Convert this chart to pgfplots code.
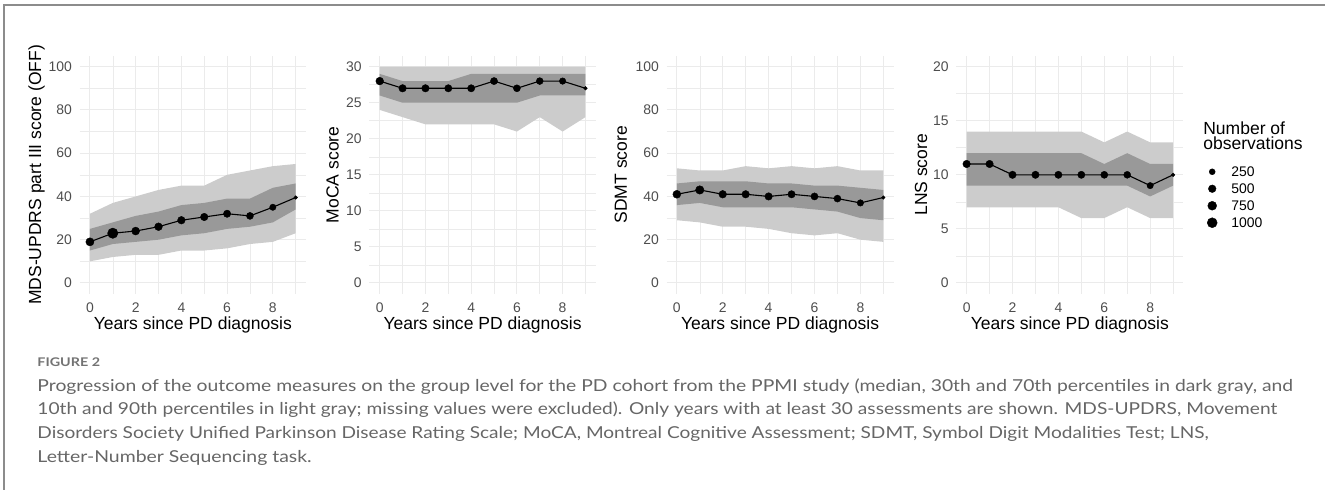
\documentclass[border=0pt]{standalone}
\usepackage{fontspec}
\setmainfont{Liberation Sans}
\newfontfamily\capfont{Lato}
\usepackage{graphicx}
\usepackage{pgfplots}
\pgfplotsset{compat=1.18}
\usepackage{pgfplotstable}
\usepgfplotslibrary{fillbetween}
\definecolor{gridc}{HTML}{EBEBEB}
\definecolor{lightband}{HTML}{CCCCCC}
\definecolor{darkband}{HTML}{999999}
\definecolor{tickc}{HTML}{4D4D4D}
\definecolor{capc}{HTML}{666666}
\definecolor{figc}{HTML}{737373}
\definecolor{framec}{HTML}{8C8C8C}

% x = years since diagnosis, med = median, q30/q70, q10/q90 percentiles, n = number of observations
\pgfplotstableread{
x med q30 q70 q10 q90 n
0 19 15 25 10 32 600
1 23 18 28 12 37 1100
2 24 19 31 13 40 560
3 26 20 33 13 43 520
4 29 22 36 15 45 500
5 30.5 23 37 15 45 480
6 32 25 39 16 50 450
7 31 26 39 18 52 400
8 35 28 44 19 54 300
9 39.5 34 46 23 55 40
}\updrs
\pgfplotstableread{
x med q30 q70 q10 q90 n
0 28 26 29 24 30 520
1 27 25 28 23 30 480
2 27 25 28 22 30 470
3 27 25 28 22 30 450
4 27 25 29 22 30 440
5 28 25 29 22 30 420
6 27 25 29 21 30 400
7 28 26 29 23 30 380
8 28 26 29 21 30 320
9 27 26 29 23 30 40
}\moca
\pgfplotstableread{
x med q30 q70 q10 q90 n
0 41 36 46 29 53 560
1 43 37 47 28 52 650
2 41 35 47 26 52 500
3 41 35 47 26 54 480
4 40 35 46 25 53 470
5 41 35 46 23 54 450
6 40 34 45 22 53 420
7 39 33 45 23 54 400
8 37 30 44 20 52 320
9 39.5 29 43 19 52 40
}\sdmt
\pgfplotstableread{
x med q30 q70 q10 q90 n
0 11 9 12 7 14 480
1 11 9 12 7 14 470
2 10 9 12 7 14 460
3 10 9 12 7 14 450
4 10 9 12 7 14 440
5 10 9 12 6 14 430
6 10 9 11 6 13 410
7 10 9 12 7 14 390
8 9 8 11 6 13 300
9 10 9 11 6 13 40
}\lns

\pgfplotsset{
  panel/.style={
    scale only axis, height=238.1bp, anchor=south west,
    xmin=-0.45, xmax=9.45,
    xtick={0,2,4,6,8}, minor xtick={1,3,5,7,9},
    grid=both,
    major grid style={gridc, line width=1.07bp},
    minor grid style={gridc, line width=0.55bp},
    axis line style={draw=none},
    tick style={draw=none},
    major tick length=0pt, minor tick length=0pt,
    ticklabel style={font=\fontsize{14}{14}\selectfont, text=tickc},
    /pgf/number format/assume math mode=true,
    xticklabel style={anchor=north, inner sep=0pt, yshift=-8.7bp},
    yticklabel style={anchor=east, inner sep=0pt, xshift=-7.5bp},
    label style={font=\fontsize{17.6}{17.6}\selectfont},
    xlabel={Years since PD diagnosis},
    xlabel style={at={(axis description cs:0.5,0)}, anchor=center, yshift=-31.7bp},
  },
  medline/.style={black, line width=1.1bp, no markers},
  obs/.style={scatter, only marks, mark=*,
    scatter/use mapped color={draw=black, fill=black},
    visualization depends on={1+0.1265*sqrt(\thisrow{n})\as\msize},
    scatter/@pre marker code/.append style={/tikz/mark size=\msize bp}},
}

\newcommand{\bands}[2]{%
  \addplot[name path=#2hi, draw=none, forget plot] table[x=x,y=q90]{#1};
  \addplot[name path=#2lo, draw=none, forget plot] table[x=x,y=q10]{#1};
  \addplot[lightband, draw=none, forget plot] fill between[of=#2hi and #2lo];
  \addplot[name path=#2dhi, draw=none, forget plot] table[x=x,y=q70]{#1};
  \addplot[name path=#2dlo, draw=none, forget plot] table[x=x,y=q30]{#1};
  \addplot[darkband, draw=none, forget plot] fill between[of=#2dhi and #2dlo];
  \addplot[medline, forget plot] table[x=x,y=med]{#1};
  \addplot[obs, forget plot] table[x=x,y=med]{#1};
}

\newcommand{\capline}[2]{\resizebox{#1}{\height}{\capfont\fontsize{16.5}{16.5}\selectfont #2}}

\begin{document}
\begin{tikzpicture}[x=1bp,y=1bp]
\path (0,0) rectangle (1326,490);
\draw[framec, line width=2bp] (4,0) -- (4,484.5) -- (1326,484.5);

\begin{axis}[panel, at={(79.7bp,196bp)}, width=226.5bp,
  ymin=-5, ymax=105, ytick={0,20,...,100}, minor ytick={10,30,...,90},
  ylabel={MDS-UPDRS part III score (OFF)},
  ylabel style={at={(axis description cs:-0.19,0.5)}, anchor=center}]
\bands{\updrs}{a}
\end{axis}

\begin{axis}[panel, at={(369.7bp,196bp)}, width=226.5bp,
  ymin=-1.5, ymax=31.5, ytick={0,5,...,30}, minor ytick={2.5,7.5,...,27.5},
  ylabel={MoCA score},
  ylabel style={at={(axis description cs:-0.163,0.5)}, anchor=center}]
\bands{\moca}{b}
\end{axis}

\begin{axis}[panel, at={(667bp,196bp)}, width=227.3bp,
  ymin=-5, ymax=105, ytick={0,20,...,100}, minor ytick={10,30,...,90},
  ylabel={SDMT score},
  ylabel style={at={(axis description cs:-0.201,0.5)}, anchor=center}]
\bands{\sdmt}{c}
\end{axis}

\begin{axis}[panel, at={(957bp,196bp)}, width=227.3bp,
  ymin=-1, ymax=21, ytick={0,5,...,20}, minor ytick={2.5,7.5,...,17.5},
  ylabel={LNS score},
  ylabel style={at={(axis description cs:-0.155,0.5)}, anchor=center},
  legend cell align=left,
  legend image code/.code={\path (0bp,0bp) (16bp,0bp); \draw[#1] plot coordinates {(8bp,0bp)};},
  legend style={at={(axis description cs:1.0898,0.5346)}, anchor=north west,
    draw=none, fill=none, inner sep=0pt, row sep=7bp, column sep=11bp,
    font=\fontsize{14}{14}\selectfont,
    nodes={inner sep=0pt, text height=10bp, text depth=0bp}}]
\bands{\lns}{d}
\addlegendimage{only marks, mark=*, black, mark size=3bp}
\addlegendentry{250}
\addlegendimage{only marks, mark=*, black, mark size=3.83bp}
\addlegendentry{500}
\addlegendimage{only marks, mark=*, black, mark size=4.46bp}
\addlegendentry{750}
\addlegendimage{only marks, mark=*, black, mark size=5bp}
\addlegendentry{1000}
\end{axis}

\node[anchor=base west, inner sep=0pt, align=left, font=\fontsize{17.6}{15.5}\selectfont] at (1204,340) {Number of\\observations};

\begin{scope}[capc]
\node[anchor=base west, inner sep=0pt, text=figc] at (37.3,123.7) {\resizebox{62.7bp}{\height}{\capfont\bfseries\fontsize{12}{12}\selectfont FIGURE 2}};
\node[anchor=base west, inner sep=0pt] at (37.3,98.7) {\capline{1256.4bp}{Progression of the outcome measures on the group level for the PD cohort from the PPMI study (median, 30th and 70th percentiles in dark gray, and}};
\node[anchor=base west, inner sep=0pt] at (37.3,74.7) {\capline{1240.4bp}{10th and 90th percentiles in light gray; missing values were excluded). Only years with at least 30 assessments are shown. MDS-UPDRS, Movement}};
\node[anchor=base west, inner sep=0pt] at (37.3,51.0) {\capline{1172bp}{Disorders Society Unified Parkinson Disease Rating Scale; MoCA, Montreal Cognitive Assessment; SDMT, Symbol Digit Modalities Test; LNS,}};
\node[anchor=base west, inner sep=0pt] at (37.3,27.3) {\capline{274.4bp}{Letter-Number Sequencing task.}};
\end{scope}
\end{tikzpicture}
\end{document}
